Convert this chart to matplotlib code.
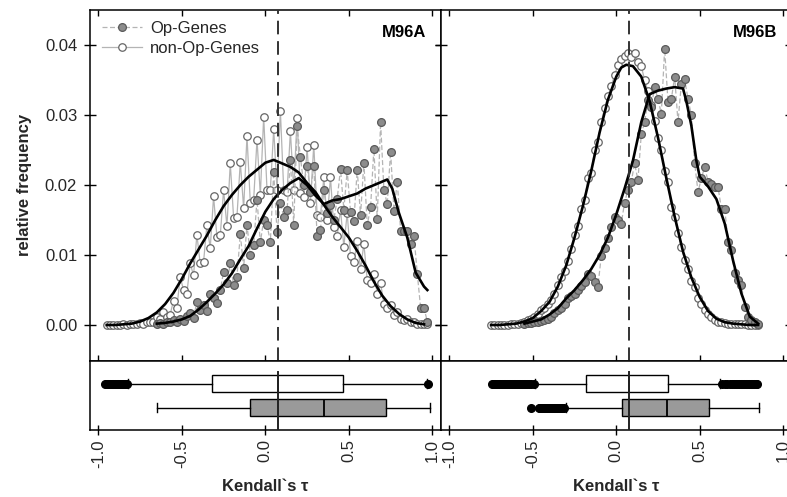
import numpy as np
import matplotlib
matplotlib.use("Agg")
import matplotlib.pyplot as plt
from matplotlib.lines import Line2D

plt.rcParams["font.family"] = ["Liberation Sans", "DejaVu Sans"]

# ---- data: relative frequency per tau bin ----
TAU_A_NONOP = np.round(np.arange(-0.95, 0.98, 0.02), 2)
A_NONOP = [
    0.0000, 0.0000, 0.0000, 0.0000, 0.0000, 0.0001, 0.0000, 0.0001, 0.0001, 0.0001,
    0.0003, 0.0002, 0.0005, 0.0004, 0.0004, 0.0012, 0.0008, 0.0019, 0.0012, 0.0015,
    0.0035, 0.0024, 0.0069, 0.0050, 0.0045, 0.0088, 0.0071, 0.0129, 0.0088, 0.0090,
    0.0143, 0.0110, 0.0184, 0.0126, 0.0128, 0.0193, 0.0141, 0.0231, 0.0153, 0.0155,
    0.0233, 0.0167, 0.0270, 0.0175, 0.0179, 0.0265, 0.0186, 0.0298, 0.0193, 0.0193,
    0.0280, 0.0193, 0.0306, 0.0193, 0.0190, 0.0277, 0.0193, 0.0296, 0.0188, 0.0183,
    0.0254, 0.0175, 0.0258, 0.0157, 0.0155, 0.0211, 0.0150, 0.0211, 0.0140, 0.0127,
    0.0165, 0.0112, 0.0160, 0.0098, 0.0090, 0.0120, 0.0080, 0.0116, 0.0065, 0.0060,
    0.0073, 0.0045, 0.0060, 0.0030, 0.0025, 0.0028, 0.0015, 0.0018, 0.0008, 0.0007,
    0.0008, 0.0004, 0.0004, 0.0002, 0.0002, 0.0001, 0.0001,
]
TAU_A_OP = np.round(np.arange(-0.65, 0.98, 0.02), 2)
A_OP = [
    0.0002, 0.0003, 0.0002, 0.0005, 0.0004, 0.0007, 0.0005, 0.0009, 0.0006, 0.0013,
    0.0017, 0.0010, 0.0033, 0.0022, 0.0028, 0.0020, 0.0044, 0.0038, 0.0032, 0.0050,
    0.0076, 0.0060, 0.0088, 0.0057, 0.0069, 0.0130, 0.0082, 0.0143, 0.0100, 0.0114,
    0.0179, 0.0118, 0.0150, 0.0143, 0.0119, 0.0219, 0.0133, 0.0175, 0.0155, 0.0164,
    0.0236, 0.0143, 0.0284, 0.0240, 0.0200, 0.0227, 0.0190, 0.0227, 0.0127, 0.0136,
    0.0193, 0.0160, 0.0172, 0.0150, 0.0180, 0.0223, 0.0165, 0.0221, 0.0162, 0.0148,
    0.0222, 0.0157, 0.0232, 0.0143, 0.0168, 0.0252, 0.0152, 0.0290, 0.0193, 0.0173,
    0.0248, 0.0163, 0.0205, 0.0135, 0.0134, 0.0134, 0.0116, 0.0127, 0.0073, 0.0024,
    0.0024, 0.0005,
]
TAU_B_NONOP = np.round(np.arange(-0.75, 0.86, 0.02), 2)
B_NONOP = [
    0.0000, 0.0000, 0.0000, 0.0000, 0.0000, 0.0000, 0.0001, 0.0001, 0.0002, 0.0003,
    0.0005, 0.0007, 0.0009, 0.0011, 0.0016, 0.0021, 0.0024, 0.0030, 0.0036, 0.0044,
    0.0057, 0.0068, 0.0077, 0.0092, 0.0108, 0.0129, 0.0141, 0.0166, 0.0178, 0.0210,
    0.0218, 0.0250, 0.0262, 0.0290, 0.0310, 0.0327, 0.0342, 0.0357, 0.0372, 0.0380,
    0.0384, 0.0389, 0.0383, 0.0389, 0.0376, 0.0370, 0.0350, 0.0334, 0.0315, 0.0292,
    0.0268, 0.0250, 0.0220, 0.0205, 0.0168, 0.0155, 0.0131, 0.0112, 0.0093, 0.0080,
    0.0063, 0.0055, 0.0038, 0.0030, 0.0022, 0.0016, 0.0011, 0.0007, 0.0005, 0.0004,
    0.0003, 0.0002, 0.0002, 0.0002, 0.0001, 0.0001, 0.0001, 0.0000, 0.0000, 0.0000,
    0.0000,
]
TAU_B_OP = np.round(np.arange(-0.55, 0.86, 0.02), 2)
B_OP = [
    0.0002, 0.0003, 0.0003, 0.0004, 0.0005, 0.0006, 0.0007, 0.0009, 0.0012, 0.0017,
    0.0022, 0.0024, 0.0030, 0.0038, 0.0041, 0.0045, 0.0050, 0.0056, 0.0062, 0.0073,
    0.0070, 0.0062, 0.0055, 0.0098, 0.0110, 0.0124, 0.0140, 0.0155, 0.0150, 0.0145,
    0.0175, 0.0193, 0.0205, 0.0231, 0.0207, 0.0273, 0.0290, 0.0321, 0.0312, 0.0340,
    0.0323, 0.0302, 0.0395, 0.0319, 0.0323, 0.0355, 0.0290, 0.0345, 0.0351, 0.0323,
    0.0300, 0.0231, 0.0190, 0.0210, 0.0226, 0.0205, 0.0202, 0.0197, 0.0197, 0.0166,
    0.0166, 0.0119, 0.0107, 0.0074, 0.0065, 0.0057, 0.0026, 0.0012, 0.0007, 0.0004,
    0.0002,
]

# ---- smoothed curves (black lines) ----
SM_A_NONOP_TAU = [-0.95, -0.9, -0.85, -0.8, -0.75, -0.7, -0.65, -0.6, -0.55, -0.5, -0.45, -0.4,
                  -0.35, -0.3, -0.25, -0.2, -0.15, -0.1, -0.05, 0.0, 0.05, 0.1, 0.15, 0.2, 0.25,
                  0.3, 0.35, 0.4, 0.45, 0.5, 0.55, 0.6, 0.65, 0.7, 0.75, 0.8, 0.85, 0.9, 0.95]
SM_A_NONOP = [0.0000, 0.0000, 0.0001, 0.0002, 0.0005, 0.0010, 0.0018, 0.0030, 0.0046, 0.0066,
              0.0088, 0.0108, 0.0128, 0.0150, 0.0170, 0.0186, 0.0200, 0.0212, 0.0222, 0.0232,
              0.0236, 0.0231, 0.0226, 0.0218, 0.0203, 0.0190, 0.0172, 0.0155, 0.0140, 0.0125,
              0.0106, 0.0085, 0.0062, 0.0042, 0.0027, 0.0016, 0.0008, 0.0003, 0.0001]
SM_A_OP_TAU = [-0.65, -0.6, -0.55, -0.5, -0.45, -0.4, -0.35, -0.3, -0.25, -0.2, -0.15, -0.1, -0.05,
               0.0, 0.05, 0.1, 0.15, 0.2, 0.25, 0.3, 0.35, 0.4, 0.45, 0.5, 0.55, 0.6, 0.65, 0.7,
               0.73, 0.76, 0.8, 0.85, 0.9, 0.95, 0.97]
SM_A_OP = [0.0002, 0.0003, 0.0005, 0.0008, 0.0013, 0.0022, 0.0033, 0.0045, 0.0058, 0.0074, 0.0094,
           0.0113, 0.0138, 0.0162, 0.0180, 0.0193, 0.0203, 0.0210, 0.0200, 0.0185, 0.0173, 0.0178,
           0.0180, 0.0184, 0.0188, 0.0195, 0.0200, 0.0205, 0.0208, 0.0195, 0.0160, 0.0125, 0.0075,
           0.0055, 0.0050]
SM_B_NONOP_TAU = [-0.75, -0.7, -0.65, -0.6, -0.55, -0.5, -0.45, -0.4, -0.35, -0.3, -0.25, -0.2,
                  -0.15, -0.1, -0.05, 0.0, 0.03, 0.06, 0.1, 0.15, 0.2, 0.25, 0.3, 0.35, 0.4, 0.45,
                  0.5, 0.55, 0.6, 0.65, 0.7, 0.75, 0.8, 0.85]
SM_B_NONOP = [0.0000, 0.0000, 0.0001, 0.0002, 0.0005, 0.0010, 0.0020, 0.0033, 0.0055, 0.0085,
              0.0125, 0.0170, 0.0220, 0.0275, 0.0322, 0.0355, 0.0368, 0.0372, 0.0370, 0.0355,
              0.0320, 0.0268, 0.0210, 0.0155, 0.0105, 0.0068, 0.0040, 0.0020, 0.0009, 0.0004,
              0.0002, 0.0001, 0.0000, 0.0000]
SM_B_OP_TAU = [-0.55, -0.5, -0.45, -0.4, -0.35, -0.3, -0.25, -0.2, -0.15, -0.1, -0.05, 0.0, 0.05,
               0.1, 0.15, 0.2, 0.25, 0.3, 0.35, 0.4, 0.42, 0.45, 0.48, 0.5, 0.55, 0.6, 0.65, 0.7,
               0.75, 0.8, 0.85]
SM_B_OP = [0.0002, 0.0005, 0.0008, 0.0015, 0.0024, 0.0038, 0.0050, 0.0064, 0.0080, 0.0100, 0.0125,
           0.0158, 0.0195, 0.0235, 0.0290, 0.0330, 0.0335, 0.0338, 0.0340, 0.0338, 0.0320, 0.0285,
           0.0235, 0.0212, 0.0198, 0.0180, 0.0145, 0.0092, 0.0045, 0.0012, 0.0002]

# ---- boxplot summaries (lo whisker, q1, median, q3, hi whisker, outliers) ----
BOX_A_NONOP = (-0.823, -0.32, 0.076, 0.465, 0.965,
               [-0.96, -0.95, -0.94, -0.93, -0.92, -0.91, -0.90, -0.89, -0.88, -0.87, -0.86,
                -0.85, -0.84, -0.83, 0.975])
BOX_A_OP = (-0.649, -0.094, 0.349, 0.72, 0.984, [])
BOX_B_NONOP = (-0.485, -0.18, 0.074, 0.313, 0.623,
               [-0.745, -0.735, -0.725, -0.715, -0.705, -0.695, -0.685, -0.675, -0.665, -0.655,
                -0.645, -0.635, -0.625, -0.615, -0.605, -0.595, -0.585, -0.575, -0.565, -0.555,
                -0.545, -0.535, -0.525, -0.51, -0.495,
                0.635, 0.65, 0.665, 0.68, 0.695, 0.705, 0.715, 0.725, 0.735, 0.745, 0.755,
                0.765, 0.775, 0.785, 0.795, 0.805, 0.815, 0.825, 0.835, 0.845])
BOX_B_OP = (-0.30, 0.034, 0.303, 0.557, 0.856,
            [-0.51, -0.465, -0.455, -0.445, -0.435, -0.425, -0.415, -0.405, -0.395, -0.385,
             -0.375, -0.365, -0.355, -0.345, -0.335, -0.325, -0.315])

REF_LINE = {"M96A": 0.076, "M96B": 0.074}

XTICKS = [-1.0, -0.5, 0.0, 0.5, 1.0]
XTICK_LABELS = ["-1.0", "-0.5", "0.0", "0.5", "1.0"]
YTICKS = [0.00, 0.01, 0.02, 0.03, 0.04]
YTICK_LABELS = ["0.00", "0.01", "0.02", "0.03", "0.04"]

TXT = "#262626"
LINE_GREY = "#b4b4b4"
FS = 12

W, H = 787, 497
fig = plt.figure(figsize=(W / 100, H / 100), dpi=100)


def px_axes(x0, x1, y0, y1):
    return fig.add_axes([x0 / W, 1 - y1 / H, (x1 - x0) / W, (y1 - y0) / H])


def stats(s, label):
    lo, q1, med, q3, hi, fl = s
    return {"whislo": lo, "q1": q1, "med": med, "q3": q3, "whishi": hi,
            "fliers": np.array(fl), "label": label}


panels = [
    ("M96A", 90, 440.7, TAU_A_NONOP, A_NONOP, TAU_A_OP, A_OP,
     (SM_A_NONOP_TAU, SM_A_NONOP), (SM_A_OP_TAU, SM_A_OP), BOX_A_NONOP, BOX_A_OP),
    ("M96B", 441, 791.5, TAU_B_NONOP, B_NONOP, TAU_B_OP, B_OP,
     (SM_B_NONOP_TAU, SM_B_NONOP), (SM_B_OP_TAU, SM_B_OP), BOX_B_NONOP, BOX_B_OP),
]

for i, (name, x0, x1, t_n, v_n, t_o, v_o, sm_n, sm_o, bx_n, bx_o) in enumerate(panels):
    ax = px_axes(x0, x1, 9.5, 360.7)
    axb = px_axes(x0, x1, 360.7, 430)

    # points
    ax.plot(t_n, v_n, color=LINE_GREY, lw=0.9, marker="o", ms=5.4,
            mfc="white", mec="#666666", mew=0.9, zorder=3)
    ax.plot(t_o, v_o, color=LINE_GREY, lw=0.9, ls=(0, (4, 2)), marker="o", ms=5.6,
            mfc="#8c8c8c", mec="#5a5a5a", mew=0.9, zorder=4)
    # smoothed curves
    ax.plot(sm_n[0], sm_n[1], color="black", lw=1.9, zorder=5)
    ax.plot(sm_o[0], sm_o[1], color="black", lw=1.9, zorder=5)
    ax.axvline(REF_LINE[name], color="#333333", lw=1.4, dashes=(7, 3.5), zorder=6)

    ax.set_xlim(-1.05, 1.05)
    ax.set_ylim(-0.0051, 0.0451)
    ax.set_xticks(XTICKS)
    ax.set_yticks(YTICKS)
    ax.tick_params(axis="x", direction="in", top=True, bottom=True, labelbottom=False,
                   length=4.5, width=1.0)
    ax.tick_params(axis="y", direction="inout", left=True, right=True, length=8.5,
                   width=1.0, labelleft=(i == 0), labelsize=FS, labelcolor=TXT, pad=5)
    if i == 0:
        ax.set_yticklabels(YTICK_LABELS)
        ax.set_ylabel("relative frequency", fontsize=FS, fontweight="bold", color=TXT,
                      labelpad=9)
        handles = [
            Line2D([], [], color=LINE_GREY, lw=0.9, ls=(0, (4, 2)), marker="o", ms=5.6,
                   mfc="#8c8c8c", mec="#5a5a5a", mew=0.9),
            Line2D([], [], color=LINE_GREY, lw=0.9, marker="o", ms=5.4,
                   mfc="white", mec="#666666", mew=0.9),
        ]
        ax.legend(handles, ["Op-Genes", "non-Op-Genes"], loc="upper left", frameon=False,
                  fontsize=FS, labelcolor=TXT, handlelength=2.4, handletextpad=0.5,
                  borderaxespad=0.3, labelspacing=0.3)
    ax.text(0.96, 0.955, name, transform=ax.transAxes, ha="right", va="top",
            fontsize=FS, fontweight="bold", color="black")
    for sp in ax.spines.values():
        sp.set_linewidth(1.1)

    # box plots
    axb.bxp([stats(bx_o, "Op"), stats(bx_n, "non-Op")], positions=[1, 2], widths=0.7,
            orientation="horizontal", patch_artist=True, showfliers=True,
            boxprops=dict(edgecolor="black", lw=1.0),
            medianprops=dict(color="black", lw=1.3),
            whiskerprops=dict(color="black", lw=1.0),
            capprops=dict(color="black", lw=1.0),
            flierprops=dict(marker="o", mfc="black", mec="black", ms=5.5, lw=0))
    for patch, fc in zip(axb.patches, ["#9a9a9a", "white"]):
        patch.set_facecolor(fc)
    axb.axvline(REF_LINE[name], ymin=0, ymax=0.84, color="#222222", lw=1.4, zorder=6)
    axb.set_xlim(-1.05, 1.05)
    axb.set_ylim(0.0625, 2.95)
    axb.set_yticks([])
    axb.set_xticks(XTICKS)
    axb.set_xticklabels(XTICK_LABELS, rotation=90)
    axb.tick_params(axis="x", direction="inout", length=7, width=1.0, labelsize=FS,
                    labelcolor=TXT, pad=3)
    axb.set_xlabel("Kendall`s \u03c4", fontsize=FS, fontweight="bold", color=TXT,
                   labelpad=8)
    for sp in axb.spines.values():
        sp.set_linewidth(1.1)

fig.savefig("out.png", dpi=100)
